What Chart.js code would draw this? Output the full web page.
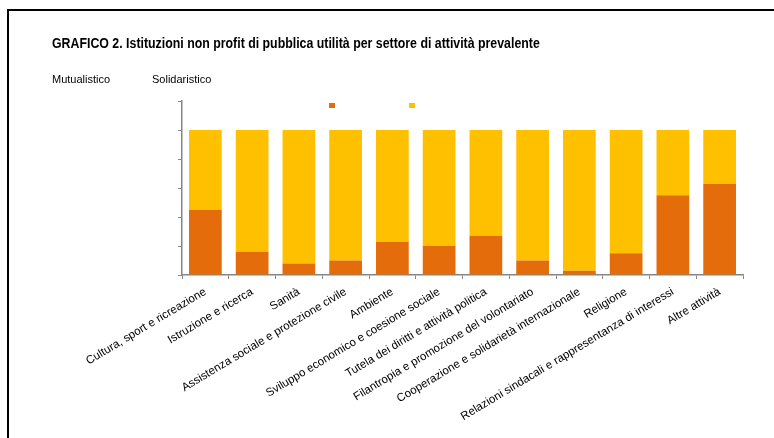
<!DOCTYPE html>
<html>
<head>
<meta charset="utf-8">
<script src="https://cdn.jsdelivr.net/npm/chart.js@4/dist/chart.umd.min.js"></script>
<style>
  html, body { margin: 0; padding: 0; background: #fff; }
  #wrap { position: relative; width: 774px; height: 438px; overflow: hidden; }
  #frame { position: absolute; left: 7px; top: 9px; width: 800px; height: 500px; border-left: 2px solid #000; border-top: 2px solid #000; }
  #title { position: absolute; left: 52px; top: 35px; font-family: 'Liberation Sans', Arial, sans-serif; font-weight: bold; font-size: 14px; color: #000; white-space: nowrap; transform: scaleX(0.882); transform-origin: 0 0; }
  .lg { position: absolute; top: 73px; font-family: 'Liberation Sans', Arial, sans-serif; font-size: 11px; color: #000; white-space: nowrap; }
  .sq { position: absolute; top: 103px; width: 6px; height: 5px; }
  canvas { position: absolute; left: 0; top: 0; }
</style>
</head>
<body>
<div id="wrap">
  <canvas id="c" width="774" height="438"></canvas>
  <div id="frame"></div>
  <div id="title">GRAFICO 2. Istituzioni non profit di pubblica utilità per settore di attività prevalente</div>
  <div class="lg" id="lg0" style="left:52px"></div>
  <div class="lg" id="lg1" style="left:152px"></div>
  <div class="sq" id="sq0" style="left:329px"></div>
  <div class="sq" id="sq1" style="left:409px"></div>
</div>
<script>
const categories = [
  "Cultura, sport e ricreazione",
  "Istruzione e ricerca",
  "Sanità",
  "Assistenza sociale e protezione civile",
  "Ambiente",
  "Sviluppo economico e coesione sociale",
  "Tutela dei diritti e attività politica",
  "Filantropia e promozione del volontariato",
  "Cooperazione e solidarietà internazionale",
  "Religione",
  "Relazioni sindacali e rappresentanza di interessi",
  "Altre attività"
];
const seriesNames = ["Mutualistico", "Solidaristico"];
const mutualistico = [45, 16, 8, 10, 23, 20, 27, 10, 3, 15, 55, 63];
const solidaristico = [55, 84, 92, 90, 77, 80, 73, 90, 97, 85, 45, 37];
const seriesColors = ["#E46C0A", "#FFC000"];

document.getElementById('lg0').textContent = seriesNames[0];
document.getElementById('lg1').textContent = seriesNames[1];
document.getElementById('sq0').style.background = seriesColors[0];
document.getElementById('sq1').style.background = seriesColors[1];

const axisColor = '#868686';
new Chart(document.getElementById('c'), {
  type: 'bar',
  data: {
    labels: categories,
    datasets: [
      { label: seriesNames[0], data: mutualistico, backgroundColor: seriesColors[0], borderWidth: 0 },
      { label: seriesNames[1], data: solidaristico, backgroundColor: seriesColors[1], borderWidth: 0 }
    ]
  },
  options: {
    responsive: false,
    animation: false,
    layout: { padding: { left: 0, top: 101, right: 31, bottom: 0 } },
    plugins: { legend: { display: false }, title: { display: false }, tooltip: { enabled: false } },
    datasets: { bar: { barPercentage: 0.7, categoryPercentage: 1.0 } },
    scales: {
      x: {
        stacked: true,
        grid: { offset: true, drawOnChartArea: false, drawTicks: true, tickLength: 4, color: axisColor, lineWidth: 1 },
        border: { display: true, color: axisColor, width: 1.5 },
        ticks: { minRotation: 31, maxRotation: 31, padding: 6, color: '#000', font: { family: "'Liberation Sans', Arial, sans-serif", size: 11.5 } },
        afterFit: (s) => { s.height = 438 - 275; }
      },
      y: {
        stacked: true,
        min: 0, max: 120,
        ticks: { stepSize: 20, display: false },
        grid: { drawOnChartArea: false, drawTicks: true, tickLength: 4, color: axisColor, lineWidth: 1 },
        border: { display: true, color: axisColor, width: 1.5 },
        afterFit: (s) => { s.width = 182; }
      }
    }
  }
});
</script>
</body>
</html>
